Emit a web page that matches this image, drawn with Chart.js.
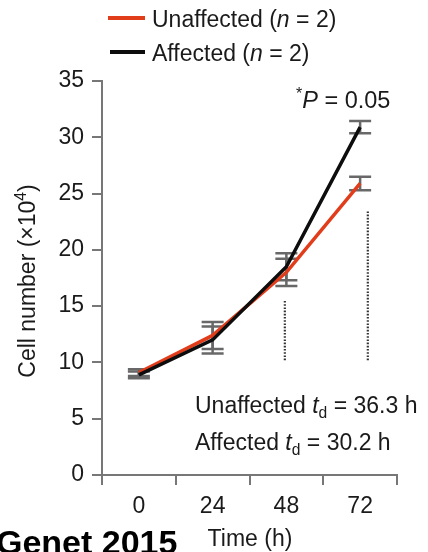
<!DOCTYPE html>
<html>
<head>
<meta charset="utf-8">
<style>
  html, body { margin: 0; padding: 0; background: #ffffff; }
  #wrap { position: relative; width: 428px; height: 552px; overflow: hidden; }
  canvas { display: block; }
</style>
<script src="https://cdn.jsdelivr.net/npm/chart.js@4.4.1/dist/chart.umd.min.js"></script>
</head>
<body>
<div id="wrap"><canvas id="c" width="428" height="552"></canvas></div>
<script>
// ---- data ----
const timePoints = [0, 24, 48, 72];            // hours
const xTickLabels = ['0', '24', '48', '72'];
const unaffected = [9.1, 12.4, 18.0, 25.9];     // cell number (x10^4)
const unaffectedErr = [0.3, 1.2, 1.2, 0.6];
const affected = [8.9, 12.0, 18.5, 30.9];
const affectedErr = [0.3, 1.2, 1.2, 0.55];
const yTicks = [0, 5, 10, 15, 20, 25, 30, 35];
// dotted markers (hours, from-value, to-value)
const dottedX = [47.5, 74.5];
const dottedFrom = [10.2, 10.2];
const dottedTo = [15.5, 23.4];

const FONT = '"Liberation Sans", Arial, Helvetica, sans-serif';
const TXT = '#1a1a1a';
const AXIS = '#777777';
const RED = '#e23d1b';
const BLACK = '#0d0d0d';

function pts(xs, ys) { return xs.map((x, i) => ({ x: x, y: ys[i] })); }

const datasets = [
  { label: 'Affected (n = 2)', data: pts(timePoints, affected), borderColor: BLACK,
    borderWidth: 3.5, pointRadius: 0, tension: 0, order: 0, errs: affectedErr },
  { label: 'Unaffected (n = 2)', data: pts(timePoints, unaffected), borderColor: RED,
    borderWidth: 3.5, pointRadius: 0, tension: 0, order: 1, errs: unaffectedErr }
];
dottedX.forEach((x, i) => {
  datasets.push({ label: 'dotted' + i, data: [{ x: x, y: dottedFrom[i] }, { x: x, y: dottedTo[i] }],
    borderColor: '#333', borderWidth: 2.2, borderDash: [1.6, 1.6], pointRadius: 0, order: 5 });
});

function drawRuns(ctx, x, y, runs, size, align) {
  let total = 0;
  const fonts = runs.map(r => {
    const s = (r.sub || r.sup) ? size * 0.68 : size;
    const f = (r.it ? 'italic ' : '') + (r.bold ? 'bold ' : '') + s + 'px ' + FONT;
    ctx.font = f;
    const w = ctx.measureText(r.t).width;
    total += w;
    return { f, w };
  });
  let cx = align === 'center' ? x - total / 2 : (align === 'right' ? x - total : x);
  runs.forEach((r, i) => {
    ctx.font = fonts[i].f;
    let dy = 0;
    if (r.sub) dy = size * 0.22;
    if (r.sup) dy = -size * 0.4;
    ctx.fillText(r.t, cx, y + dy);
    cx += fonts[i].w;
  });
}

const errorBars = {
  id: 'errorBars',
  beforeDatasetsDraw(chart) {
    const ctx = chart.ctx, xs = chart.scales.x, ys = chart.scales.y;
    ctx.save();
    ctx.strokeStyle = '#686868';
    ctx.lineWidth = 2.5;
    chart.data.datasets.forEach(ds => {
      if (!ds.errs) return;
      ds.data.forEach((p, i) => {
        const px = xs.getPixelForValue(p.x);
        const top = ys.getPixelForValue(p.y + ds.errs[i]);
        const bot = ys.getPixelForValue(p.y - ds.errs[i]);
        ctx.beginPath();
        ctx.moveTo(px, top); ctx.lineTo(px, bot);
        ctx.moveTo(px - 11, top); ctx.lineTo(px + 11, top);
        ctx.moveTo(px - 11, bot); ctx.lineTo(px + 11, bot);
        ctx.stroke();
      });
    });
    ctx.restore();
  }
};

const texts = {
  id: 'texts',
  afterDraw(chart) {
    const ctx = chart.ctx;
    ctx.save();
    ctx.fillStyle = TXT;
    ctx.textBaseline = 'alphabetic';
    const S = 23;
    // legend
    ctx.lineWidth = 4;
    ctx.strokeStyle = RED;
    ctx.beginPath(); ctx.moveTo(108, 18); ctx.lineTo(145, 18); ctx.stroke();
    ctx.strokeStyle = BLACK;
    ctx.beginPath(); ctx.moveTo(110, 52); ctx.lineTo(145, 52); ctx.stroke();
    drawRuns(ctx, 152, 27, [{ t: 'Unaffected (' }, { t: 'n', it: true }, { t: ' = 2)' }], S, 'left');
    drawRuns(ctx, 152, 61, [{ t: 'Affected (' }, { t: 'n', it: true }, { t: ' = 2)' }], S, 'left');
    // P value
    drawRuns(ctx, 296, 108, [{ t: '*', sup: true }, { t: 'P', it: true }, { t: ' = 0.05' }], 23.5, 'left');
    // doubling times
    drawRuns(ctx, 195, 413, [{ t: 'Unaffected ' }, { t: 't', it: true }, { t: 'd', sub: true }, { t: ' = 36.3 h' }], S, 'left');
    drawRuns(ctx, 195, 450, [{ t: 'Affected ' }, { t: 't', it: true }, { t: 'd', sub: true }, { t: ' = 30.2 h' }], S, 'left');
    // x title
    drawRuns(ctx, 250, 546, [{ t: 'Time (h)' }], S, 'center');
    // y title
    ctx.save();
    ctx.translate(35, 281);
    ctx.rotate(-Math.PI / 2);
    drawRuns(ctx, 0, 0, [{ t: 'Cell number (\u00d710' }, { t: '4', sup: true }, { t: ')' }], S, 'center');
    ctx.restore();
    // source fragment
    ctx.fillStyle = '#000';
    drawRuns(ctx, -4, 554, [{ t: 'Genet 2015', bold: true }], 34, 'left');
    ctx.restore();
  }
};

new Chart(document.getElementById('c'), {
  type: 'line',
  data: { datasets: datasets },
  options: {
    responsive: false,
    animation: false,
    layout: { padding: { left: 0, top: 81, right: 31, bottom: 0 } },
    plugins: { legend: { display: false }, tooltip: { enabled: false } },
    scales: {
      x: {
        type: 'linear', min: -12, max: 84,
        afterFit(s) { s.height = 77; },
        afterBuildTicks(s) {
          const t = [];
          for (let v = -12; v <= 84; v += 12) t.push({ value: v });
          s.ticks = t;
        },
        border: { display: true, color: AXIS, width: 2 },
        grid: {
          drawOnChartArea: false, drawTicks: true, tickLength: 10, lineWidth: 2,
          color: AXIS,
          tickColor: ctx => (Math.abs(ctx.tick.value) % 24 === 12 ? AXIS : 'rgba(0,0,0,0)')
        },
        ticks: {
          color: TXT, font: { family: FONT, size: 23 }, padding: 8, maxRotation: 0, autoSkip: false,
          callback: v => { const i = timePoints.indexOf(v); return i >= 0 ? xTickLabels[i] : ''; }
        }
      },
      y: {
        min: 0, max: 35,
        afterFit(s) { s.width = 102; },
        afterBuildTicks(s) { s.ticks = yTicks.map(v => ({ value: v })); },
        border: { display: true, color: AXIS, width: 2 },
        grid: { drawOnChartArea: false, drawTicks: true, tickLength: 10, lineWidth: 2, color: AXIS },
        ticks: { color: TXT, font: { family: FONT, size: 23 }, padding: 8 }
      }
    }
  },
  plugins: [errorBars, texts]
});
</script>
</body>
</html>
